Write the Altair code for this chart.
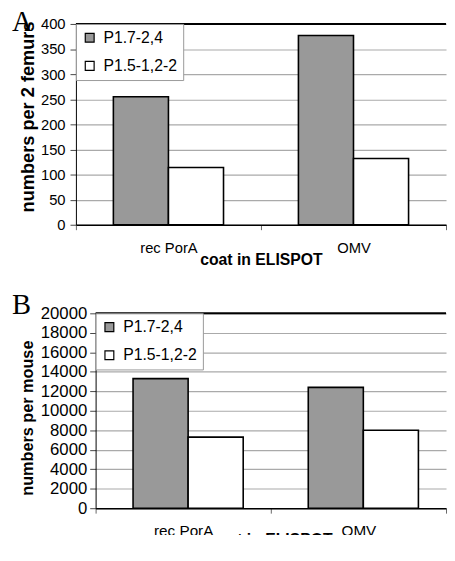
import altair as alt
import pandas as pd

categories = ["rec PorA", "OMV"]
series = ["P1.7-2,4", "P1.5-1,2-2"]
femurs_p17 = [255, 377]
femurs_p15 = [114, 132]
mouse_p17 = [13300, 12400]
mouse_p15 = [7300, 8000]
femurs_ticks = [0, 50, 100, 150, 200, 250, 300, 350, 400]
mouse_ticks = [0, 2000, 4000, 6000, 8000, 10000, 12000, 14000, 16000, 18000, 20000]
fill_colors = ["#999999", "#ffffff"]

W = 376


def make_df(a, b):
    rows = []
    for i, c in enumerate(categories):
        rows.append({"coat": c, "series": series[0], "value": a[i]})
        rows.append({"coat": c, "series": series[1], "value": b[i]})
    return pd.DataFrame(rows)


def panel(df, letter, ytitle, ticks, fs):
    ymax = ticks[-1]
    x0 = fs["x0"]
    leg_style = dict(title=None, fillColor="white", strokeColor="#999999",
                     padding=6, rowPadding=12.6,
                     symbolType="square", symbolSize=81,
                     symbolStrokeColor="black", symbolStrokeWidth=1.2,
                     labelFontSize=16, labelOffset=6, labelColor="black")
    if x0 > 0:
        leg = alt.Legend(orient="none", legendX=x0, legendY=0, **leg_style)
    else:
        leg = alt.Legend(orient="top-left", offset=0, **leg_style)
    bars = alt.Chart(df).mark_bar(stroke="black", strokeWidth=1.6).encode(
        x=alt.X("coat:N", sort=categories, title="coat in ELISPOT",
                scale=alt.Scale(paddingInner=0, paddingOuter=0, range=[x0, W]),
                axis=alt.Axis(labelAngle=0, tickBand="extent", grid=False,
                              domainColor="black", domainWidth=1.5,
                              tickColor="#666666", tickSize=5, labelPadding=11,
                              labelFontSize=fs["xl"], titleFontSize=16,
                              titleFontWeight="bold", titleBaseline="alphabetic",
                              titleX=(x0 + W) / 2, titleY=fs["xty"], titleAlign="center",
                              labelColor="black", titleColor="black")),
        xOffset=alt.XOffset("series:N", sort=series,
                            scale=alt.Scale(paddingOuter=fs["po"], paddingInner=0)),
        y=alt.Y("value:Q", title=ytitle, scale=alt.Scale(domain=[0, ymax], nice=False),
                axis=alt.Axis(values=ticks, format="d", labelOverlap=False, offset=-x0,
                              grid=True, gridColor="#aaaaaa", gridWidth=1.2,
                              domainColor="black", tickColor="#444444", tickSize=6,
                              labelPadding=fs["lp"], labelFontSize=fs["yl"],
                              titleFontSize=fs["yt"], titleFontWeight="bold",
                              titleX=fs["tx"], titleY=fs["ty"], titleAngle=270,
                              titleAlign="center", titleBaseline="middle",
                              labelColor="black", titleColor="black")),
        color=alt.Color("series:N", sort=series,
                        scale=alt.Scale(domain=series, range=fill_colors),
                        legend=leg),
    )
    top = alt.Chart(pd.DataFrame({"v": [ymax]})).mark_rule(color="black", strokeWidth=2).encode(
        x=alt.value(x0), x2=alt.value(W), y=alt.value(0)
    )
    txt = alt.Chart(pd.DataFrame({"t": [letter]})).mark_text(
        font="Liberation Serif", fontSize=29, align="left", baseline="alphabetic", color="black"
    ).encode(x=alt.value(-65), y=alt.value(fs["ly"]), text="t:N")
    return alt.layer(bars, top, txt).properties(width=W, height=fs["h"])


pa = panel(make_df(femurs_p17, femurs_p15), "A", "numbers per 2 femurs", femurs_ticks,
           {"x0": 0, "h": 204, "ly": 7, "xl": 15, "xty": 40, "lp": 5, "yl": 15, "yt": 18.5,
            "tx": -49, "ty": 94, "po": 0.68})
pb = panel(make_df(mouse_p17, mouse_p15), "B", "numbers per mouse", mouse_ticks,
           {"x0": 20, "h": 198, "ly": 1, "xl": 15.5, "xty": 37, "lp": 3, "yl": 17, "yt": 16.5,
            "tx": -69, "ty": 106, "po": 0.71})

chart = alt.concat(pa, pb, columns=1, spacing=25).properties(
    padding={"left": 4, "top": -4, "right": 0, "bottom": -17}
).configure(font="Liberation Sans").configure_view(stroke=None)

chart.save("out.html", embed_options={"renderer": "svg", "actions": False})
